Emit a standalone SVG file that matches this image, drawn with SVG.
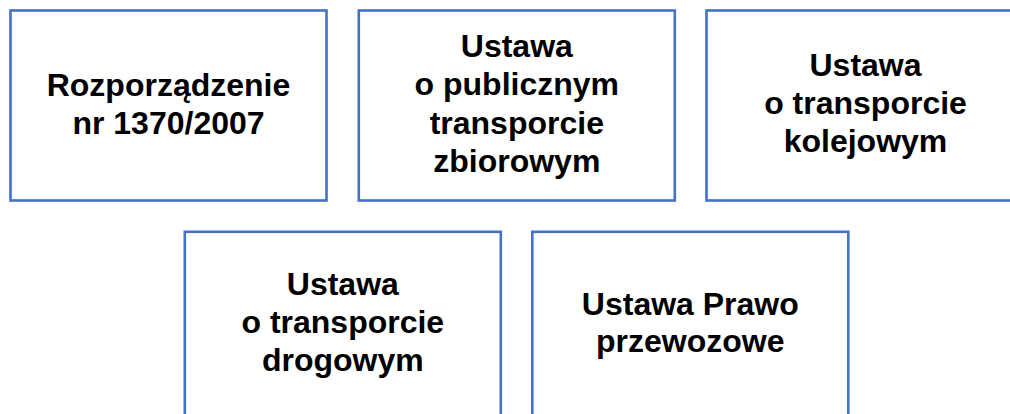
<svg xmlns="http://www.w3.org/2000/svg" width="1010" height="414" viewBox="0 0 1010 414">
<style>
.box{fill:#FFFFFF;stroke:#4472C4;stroke-width:2.6}
.t{font-family:"Liberation Sans",Arial,sans-serif;font-weight:bold;font-size:32px;fill:#000000;text-anchor:middle}
</style>
<rect x="0" y="0" width="1010" height="414" fill="#FFFFFF"/>
<g id="node1">
<rect class="box" x="10.5" y="10.5" width="316" height="190"/>
<text class="t"><tspan x="168.5" y="96">Rozporządzenie</tspan><tspan x="168.5" y="134">nr 1370/2007</tspan></text>
</g>
<g id="node2">
<rect class="box" x="358.8" y="10.5" width="316" height="190"/>
<text class="t"><tspan x="516.8" y="56.5">Ustawa</tspan><tspan x="516.8" y="95">o publicznym</tspan><tspan x="516.8" y="133.5">transporcie</tspan><tspan x="516.8" y="172">zbiorowym</tspan></text>
</g>
<g id="node3">
<rect class="box" x="706.5" y="10.5" width="316" height="190"/>
<text class="t"><tspan x="865.5" y="76">Ustawa</tspan><tspan x="865.5" y="114">o transporcie</tspan><tspan x="865.5" y="152">kolejowym</tspan></text>
</g>
<g id="node4">
<rect class="box" x="184.8" y="231.8" width="316" height="190"/>
<text class="t"><tspan x="342.8" y="294.5">Ustawa</tspan><tspan x="342.8" y="332.7">o transporcie</tspan><tspan x="342.8" y="371">drogowym</tspan></text>
</g>
<g id="node5">
<rect class="box" x="532.3" y="231.8" width="316" height="190"/>
<text class="t"><tspan x="690.3" y="314.5">Ustawa Prawo</tspan><tspan x="690.3" y="351.5">przewozowe</tspan></text>
</g>
<g id="connectors"></g>
</svg>
